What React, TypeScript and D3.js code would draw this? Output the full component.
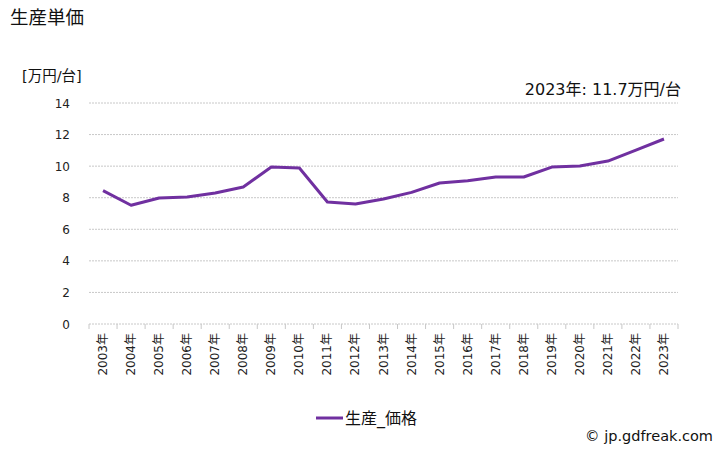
import React from "react";
import * as d3 from "d3";

const years = ["2003年","2004年","2005年","2006年","2007年","2008年","2009年","2010年","2011年","2012年","2013年","2014年","2015年","2016年","2017年","2018年","2019年","2020年","2021年","2022年","2023年"];
const prices = [8.45,7.52,7.98,8.04,8.3,8.68,9.94,9.88,7.73,7.6,7.92,8.34,8.93,9.08,9.31,9.31,9.94,10.01,10.32,11.02,11.72];
const yTicks = [0,2,4,6,8,10,12,14];

const W = 728, H = 450;
const left = 89, right = 678, top = 103, bottom = 324;
const font = "'DejaVu Sans', 'Noto Sans CJK JP', sans-serif";

export default function App() {
  const x = d3.scaleBand<string>().domain(years).range([left, right]);
  const y = d3.scaleLinear().domain([0, 14]).range([bottom, top]);
  const line = d3.line<number>()
    .x((_, i) => (x(years[i]) as number) + x.bandwidth() / 2)
    .y(d => y(d));
  return (
    <svg width={W} height={H} style={{ position: "absolute", left: 0, top: 0, background: "#fff" }}>
      <text x={10} y={24} fontSize={18.5} fontFamily={font} fill="#111">生産単価</text>
      <text x={22} y={81} fontSize={14.5} fontFamily={font} fill="#111">[万円/台]</text>
      <text x={681} y={95} fontSize={16} fontFamily={font} textAnchor="end" fill="#111">2023年: 11.7万円/台</text>
      {yTicks.map(t => (
        <g key={t}>
          <line x1={left} x2={right} y1={y(t)} y2={y(t)} stroke="#c8c8c8" strokeWidth={1} strokeDasharray="2,1" />
          <text x={70} y={y(t) + 4.5} fontSize={12} fontFamily={font} textAnchor="end" fill="#222">{t}</text>
        </g>
      ))}
      {years.map(yr => (
        <line key={"t" + yr} x1={x(yr) as number} x2={x(yr) as number} y1={bottom} y2={bottom + 5} stroke="#c8c8c8" />
      ))}
      <line x1={right} x2={right} y1={bottom} y2={bottom + 5} stroke="#c8c8c8" />
      {years.map(yr => {
        const cx = (x(yr) as number) + x.bandwidth() / 2 + 4;
        return (
          <text key={"l" + yr} transform={`translate(${cx},333) rotate(-90)`} fontSize={12} fontFamily={font} textAnchor="end" fill="#222">{yr}</text>
        );
      })}
      <path d={line(prices) || ""} fill="none" stroke="#7030a0" strokeWidth={3} strokeLinejoin="round" />
      <line x1={316} x2={343} y1={418} y2={418} stroke="#7030a0" strokeWidth={3} />
      <text x={345} y={424} fontSize={16} fontFamily={font} fill="#111">生産_価格</text>
      <text x={713} y={441} fontSize={14.5} fontFamily={font} textAnchor="end" fill="#111">© jp.gdfreak.com</text>
    </svg>
  );
}
